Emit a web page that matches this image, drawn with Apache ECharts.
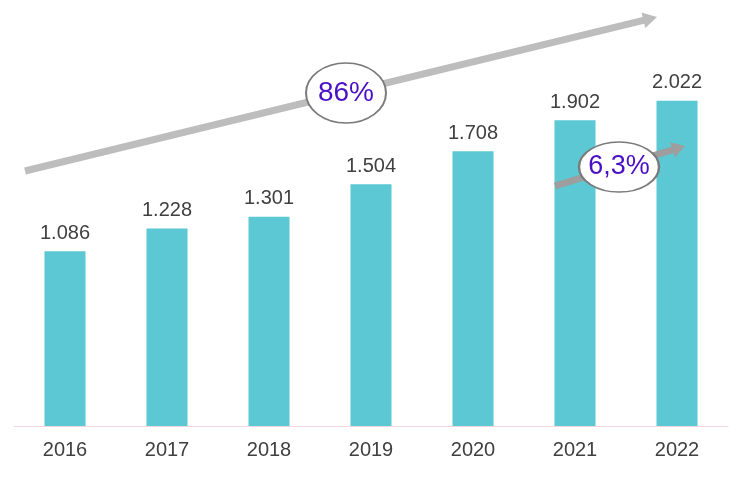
<!DOCTYPE html>
<html><head><meta charset="utf-8">
<script src="https://cdn.jsdelivr.net/npm/echarts@6/dist/echarts.min.js"></script>
<style>html,body{margin:0;padding:0;background:#fff}#c{width:750px;height:491px}</style>
</head><body><div id="c"></div>
<script>
var categories = ['2016','2017','2018','2019','2020','2021','2022'];
var values = [1.086, 1.228, 1.301, 1.504, 1.708, 1.902, 2.022];
var labels = ['1.086','1.228','1.301','1.504','1.708','1.902','2.022'];
var bigNote = '86%';
var smallNote = '6,3%';

function arrow(x1,y1,x2,y2,w,hw,hl,color){
  var dx=x2-x1, dy=y2-y1, L=Math.sqrt(dx*dx+dy*dy), ux=dx/L, uy=dy/L, nx=-uy, ny=ux;
  var bx=x2-ux*hl, by=y2-uy*hl;
  return [
    {type:'line', shape:{x1:x1,y1:y1,x2:bx+ux*1,y2:by+uy*1}, style:{stroke:color,lineWidth:w}, z:10},
    {type:'polygon', shape:{points:[[x2,y2],[bx+nx*hw,by+ny*hw],[bx-nx*hw,by-ny*hw]]}, style:{fill:color}, z:10}
  ];
}
function note(cx,cy,rx,ry,txt,fs){
  return [
    {type:'circle', x:cx, y:cy, scaleX:rx/ry, shape:{cx:0,cy:0,r:ry}, style:{fill:'#fff',stroke:'#7a7a7a',lineWidth:1.5,strokeNoScale:true}, z:20},
    {type:'text', x:cx, y:cy, style:{text:txt, fill:'#4a10c6', font:'normal '+fs+'px "Liberation Sans", Arial, sans-serif', textAlign:'center', textVerticalAlign:'middle'}, z:21}
  ];
}
var g = [].concat(
  arrow(25,171,657,17,7,8,14,'#bdbdbd'),
  arrow(555,186,685,146,7,8,13,'#9e9e9e'),
  note(346,93,40,30,bigNote,28),
  note(619,167,40,25,smallNote,27)
);
var chart = echarts.init(document.getElementById('c'));
chart.setOption({
  animation:false,
  grid:{left:14,right:22,top:24,bottom:65},
  xAxis:{type:'category',data:categories,
    axisLine:{lineStyle:{color:'#f2d6dc',width:1}},axisTick:{show:false},
    axisLabel:{color:'#404040',fontSize:20,margin:14,fontFamily:'"Liberation Sans", Arial, sans-serif'}},
  yAxis:{type:'value',min:0,max:2.5,show:false,splitLine:{show:false}},
  series:[{type:'bar',data:values,barWidth:41,itemStyle:{color:'#5bc8d3'},
    label:{show:true,position:'top',distance:8,color:'#404040',fontSize:20,fontFamily:'"Liberation Sans", Arial, sans-serif',
      formatter:function(p){return labels[p.dataIndex];}}}],
  graphic:g
});
</script></body></html>
